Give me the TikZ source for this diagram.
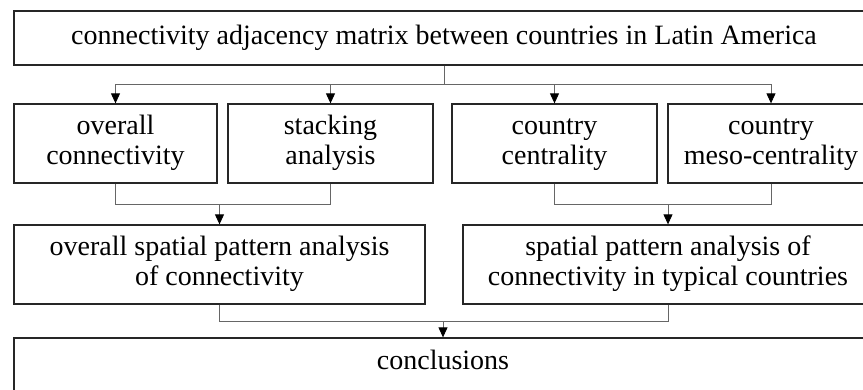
\documentclass[tikz,border=0pt]{standalone}
\usepackage{fontspec}
\setmainfont{Liberation Serif}
\usetikzlibrary{arrows.meta}
\begin{document}
\begin{tikzpicture}[x=1pt,y=-1pt,
  box/.style={draw=black!85,line width=1.3pt,rectangle,inner sep=0pt,align=center,
    font=\fontsize{28}{30}\selectfont,minimum height=79pt},
  txt/.style={inner sep=0pt,align=center,font=\fontsize{28}{30}\selectfont},
  link/.style={draw=black!60,line width=0.9pt},
  arr/.style={link,-{Triangle[length=10pt,width=9pt,color=black,fill=black]}}]
\useasboundingbox (0,0) rectangle (863,389);
\clip (0,0) rectangle (863,389);
\node[box,minimum width=860pt,minimum height=54pt] (top) at (444,38) {\strut connectivity adjacency matrix between countries in Latin America};
\node[box,minimum width=203pt] (b1) at (115.5,143.5) {\strut overall\\\strut connectivity};
\node[box,minimum width=205pt] (b2) at (330.5,143.5) {\strut stacking\\\strut analysis};
\node[box,minimum width=205pt] (b3) at (554.5,143.5) {\strut country\\\strut centrality};
\node[box,minimum width=206pt] (b4) at (771,143.5) {\strut country\\\strut meso-centrality};
\node[box,minimum width=411pt] (c1) at (219.5,264.5) {\strut overall spatial pattern analysis\\\strut of connectivity};
\node[box,minimum width=410pt] (c2) at (668,264.5) {\strut spatial pattern analysis of\\\strut connectivity in typical countries};
\node[box,minimum width=858pt,minimum height=62pt] (d) at (443,369) {};
\node[txt] (dt) at (443,363) {\strut conclusions};
% top to row 2
\coordinate (j1) at (444,84);
\draw[link] (top.south) -- (j1);
\draw[arr] (j1) -| (b1.north);
\draw[arr] (j1) -| (b2.north);
\draw[arr] (j1) -| (b3.north);
\draw[arr] (j1) -| (b4.north);
% row 2 to row 3
\coordinate (j2) at (219.5,204);
\coordinate (j3) at (668,204);
\draw[link] (b1.south) |- (j2);
\draw[link] (b2.south) |- (j2);
\draw[arr] (j2) -- (c1.north);
\draw[link] (b3.south) |- (j3);
\draw[link] (b4.south) |- (j3);
\draw[arr] (j3) -- (c2.north);
% row 3 to conclusions
\coordinate (j4) at (443,321);
\draw[link] (c1.south) |- (j4);
\draw[link] (c2.south) |- (j4);
\draw[arr] (j4) -- (d.north);
\end{tikzpicture}
\end{document}
